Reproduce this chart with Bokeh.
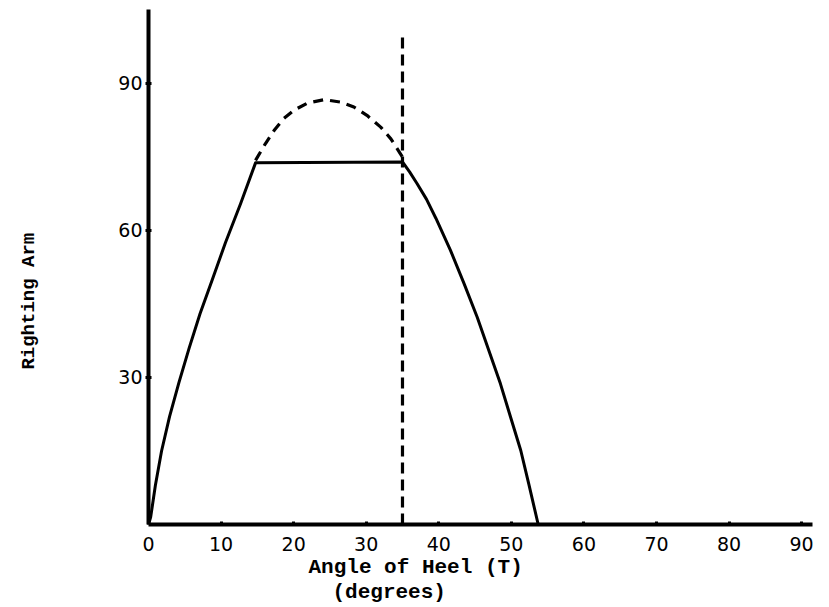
from bokeh.plotting import figure
from bokeh.models import Range1d, FixedTicker, Title, LinearAxis
from bokeh.embed import file_html
from bokeh.resources import INLINE

# ---- data ----
x_ticks = [0, 10, 20, 30, 40, 50, 60, 70, 80, 90]
y_ticks = [30, 60, 90]

rise_x = [0, 0.3, 0.95, 1.8, 2.9, 4.2, 5.6, 7.1, 8.8, 10.6, 12.7, 14.75]
rise_y = [0, 1.5, 8.0, 15.0, 22.0, 29.0, 36.0, 43.0, 50.0, 57.5, 65.5, 73.8]

plateau_x = [14.75, 35.0]
plateau_y = [73.8, 74.0]

fall_x = [35.0, 36.0, 37.0, 38.3, 39.6, 41.6, 43.5, 45.3, 46.9, 48.5, 49.9, 51.3, 52.4, 53.7]
fall_y = [74.0, 71.9, 69.6, 66.4, 62.5, 56.0, 49.1, 42.3, 35.5, 28.7, 21.9, 15.1, 8.3, 0]

dash_x = [14.75, 16.1, 17.3, 18.6, 20.0, 21.9, 24.2, 26.5, 28.3, 30.1, 32.0, 33.4, 35.0]
dash_y = [74.3, 77.7, 80.4, 82.8, 84.5, 86.0, 86.7, 86.2, 85.2, 83.5, 81.1, 78.7, 75.0]

limit_x = [35.0, 35.0]
limit_y = [0, 100]

x_label = "Angle of Heel (T)"
x_label2 = "(degrees)"
y_label = "Righting Arm"

# ---- figure ----
p = figure(width=829, height=607, output_backend="svg", toolbar_location=None,
           x_range=Range1d(0, 91.5), y_range=Range1d(0, 105.1),
           min_border_left=148, min_border_right=17, min_border_top=9,
           min_border_bottom=83)
p.outline_line_color = None
p.xgrid.visible = False
p.ygrid.visible = False
p.background_fill_color = "white"
p.border_fill_color = "white"

solid_x = rise_x + plateau_x[1:] + fall_x[1:]
solid_y = rise_y + plateau_y[1:] + fall_y[1:]
p.line(solid_x, solid_y, line_color="black", line_width=3, line_join="round")
p.line(dash_x, dash_y, line_color="black", line_width=3.2, line_dash="10 7")
p.line(limit_x, limit_y, line_color="black", line_width=3.2, line_dash="11 6")

for ax in (p.xaxis[0], p.yaxis[0]):
    ax.axis_line_width = 4
    ax.axis_line_color = "black"
    ax.major_tick_line_width = 3
    ax.major_tick_line_color = "black"
    ax.minor_tick_line_color = None
    ax.major_label_text_font = "DejaVu Sans"
    ax.major_label_text_font_size = "19px"
    ax.major_label_text_color = "black"

p.xaxis.ticker = FixedTicker(ticks=x_ticks)
p.xaxis.major_tick_in = 3
p.xaxis.major_tick_out = 0
p.xaxis.major_label_standoff = 12

p.yaxis.ticker = FixedTicker(ticks=y_ticks)
p.yaxis.major_tick_in = 3
p.yaxis.major_tick_out = 3
p.yaxis.major_label_standoff = 3

mono = dict(text_font="Liberation Mono", text_font_style="bold", text_color="black")
p.add_layout(Title(text=x_label, align="left", offset=160, standoff=0,
                   text_font_size="21px", **mono), "below")
p.add_layout(Title(text=x_label2, align="left", offset=184, standoff=0,
                   text_font_size="21px", **mono), "below")

# outer left axis carrying only the y label (no rule, no ticks);
# trailing no-break spaces move the visible words down like the reference
label_axis = LinearAxis(ticker=FixedTicker(ticks=[]),
                        axis_line_color=None, major_tick_line_color=None,
                        minor_tick_line_color=None,
                        axis_label=y_label + "\u00a0" * 6,
                        axis_label_standoff=76,
                        axis_label_text_font="Liberation Mono",
                        axis_label_text_font_style="bold",
                        axis_label_text_font_size="19px",
                        axis_label_text_color="black")
p.add_layout(label_axis, "left")

open("out.html", "w").write(file_html(p, INLINE))
